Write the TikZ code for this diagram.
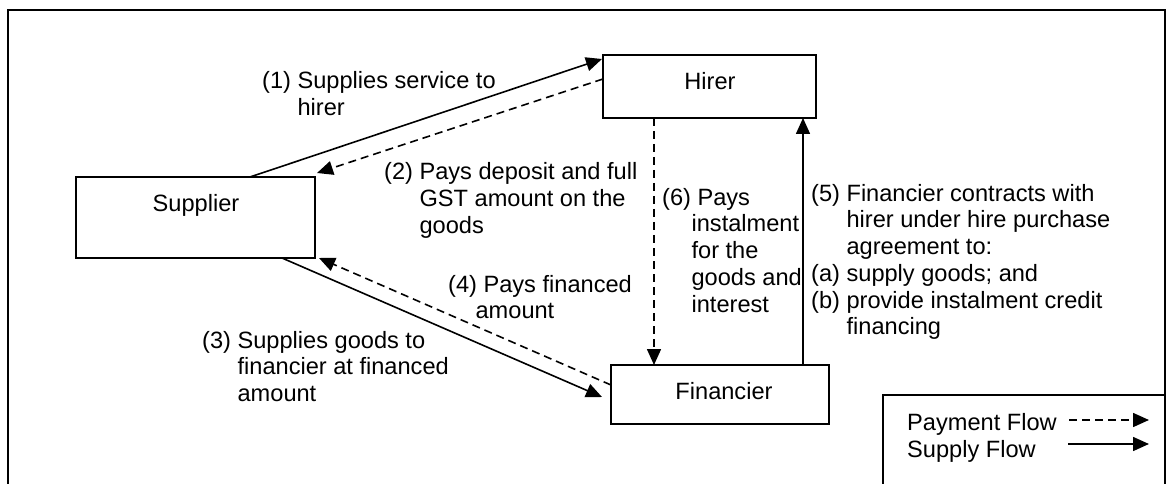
\documentclass[tikz,border=0pt]{standalone}
\usepackage{fontspec}
\setmainfont{Liberation Sans}
\usetikzlibrary{arrows.meta,calc}
\begin{document}
\begin{tikzpicture}[x=1pt,y=-1pt,
  box/.style={draw,line width=1.8pt,inner sep=0pt},
  txt/.style={inner sep=0pt,font=\fontsize{23.6}{26.8}\selectfont},
  lbl/.style={txt,anchor=base west},
  supflow/.style={line width=1.6pt,-{Triangle[length=16pt,width=14pt]}},
  payflow/.style={supflow,dash pattern=on 8pt off 5pt},
  frame/.style={draw,line width=1.8pt}
]
\useasboundingbox (0,0) rectangle (1171,484);
\clip (0,0) rectangle (1171,484);
\fill[white] (0,0) rectangle (1171,484);

% outer frame and legend box
\draw[frame] (8,10) rectangle (1165,520);
\draw[frame] (883,395) rectangle (1165,520);

% boxes
\node[box,minimum width=239pt,minimum height=81pt] (sup) at (195.5,217.5) {};
\node[box,minimum width=213pt,minimum height=63pt] (hir) at (709.5,86.5) {};
\node[box,minimum width=218pt,minimum height=59pt] (fin) at (720,394.5) {};
\node[txt,anchor=base] (supt) at (196,211.5) {Supplier};
\node[txt,anchor=base] (hirt) at (710,90) {Hirer};
\node[txt,anchor=base] (fint) at (724,399.5) {Financier};

% connector end points
\coordinate (a1) at (250,177);
\coordinate (b1) at (602,59);
\coordinate (a2) at (603,79);
\coordinate (b2) at (317,173);
\coordinate (a3) at (282,258);
\coordinate (b3) at (602,397);
\coordinate (a4) at (611,385);
\coordinate (b4) at (319,258);
\coordinate (a5) at (803,365);
\coordinate (b5) at (803,118);
\coordinate (a6) at (654,118);
\coordinate (b6) at (654,365);

\draw[supflow] (a1) -- (b1);
\draw[payflow] (a2) -- (b2);
\draw[supflow] (a3) -- (b3);
\draw[payflow] (a4) -- (b4);
\draw[supflow] (a5) -- (b5);
\draw[payflow] (a6) -- (b6);

% labels
\node[lbl] (l1) at (262,89) {\begin{tabular}[t]{@{}l@{\ }l@{}}(1) & Supplies service to\\ & hirer\end{tabular}};
\node[lbl] (l2) at (384,180) {\begin{tabular}[t]{@{}l@{\ }l@{}}(2) & Pays deposit and full\\ & GST amount on the\\ & goods\end{tabular}};
\node[lbl] (l3) at (202,348) {\begin{tabular}[t]{@{}l@{\ }l@{}}(3) & Supplies goods to\\ & financier at financed\\ & amount\end{tabular}};
\node[lbl] (l4) at (448,292) {\begin{tabular}[t]{@{}l@{\ }l@{}}(4) & Pays financed\\ & \hspace{-8pt}amount\end{tabular}};
\node[lbl] (l6) at (662,205) {\begin{tabular}[t]{@{}l@{\ }l@{}}(6) & Pays\\ & \hspace{-6pt}instalment\\ & \hspace{-6pt}for the\\ & \hspace{-6pt}goods and\\ & \hspace{-6pt}interest\end{tabular}};
\node[lbl] (l5) at (811,201) {\begin{tabular}[t]{@{}l@{\ }l@{}}(5) & Financier contracts with\\ & hirer under hire purchase\\ & agreement to:\\ (a) & supply goods; and\\ (b) & provide instalment credit\\ & financing\end{tabular}};

% legend
\node[lbl] (lp) at (907,430) {Payment Flow};
\node[lbl] (ls) at (907,457) {Supply Flow};
\coordinate (pa) at (1069,420);
\coordinate (pb) at (1149,420);
\coordinate (sa) at (1068,444);
\coordinate (sb) at (1149,444);
\draw[payflow] (pa) -- (pb);
\draw[supflow] (sa) -- (sb);
\end{tikzpicture}
\end{document}
